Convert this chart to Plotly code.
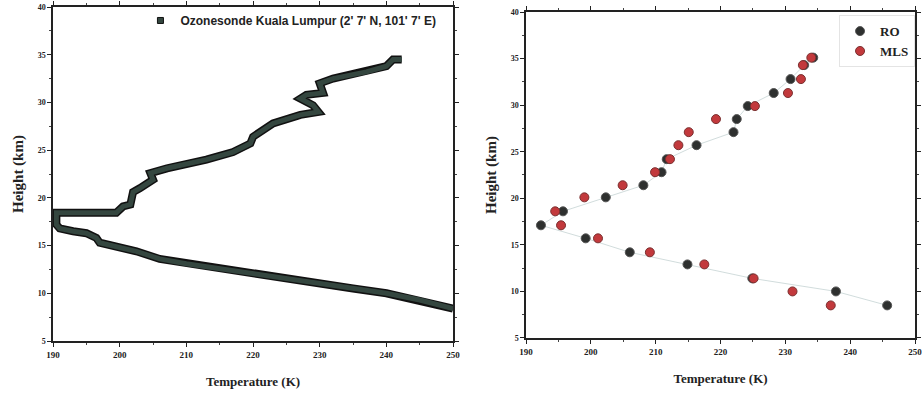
import plotly.graph_objects as go

# Left panel: ozonesonde profile (Temperature K, Height km)
sonde_temp = [250.0, 245.0, 240.0, 235.0, 230.0, 225.0, 220.0, 215.0, 210.0, 206.0, 202.5,
              200.0, 198.0, 197.0, 196.5, 195.0, 193.0, 191.0, 190.5, 190.4, 190.5, 199.5, 200.5,
              201.6, 202.0, 203.0, 205.0, 204.6, 207.1, 213.0, 217.0, 219.6, 220.0, 223.0,
              227.1, 229.8, 229.0, 227.1, 228.0, 230.5, 230.0, 232.0, 237.0, 240.0, 241.0, 242.3]
sonde_height = [8.4, 9.3, 10.0, 10.5, 11.05, 11.6, 12.1, 12.6, 13.1, 13.6, 14.4,
                14.8, 15.2, 15.3, 15.8, 16.3, 16.5, 16.8, 17.2, 18.0, 18.45, 18.45, 19.1,
                19.3, 20.6, 21.0, 21.9, 22.6, 23.1, 24.0, 24.8, 25.7, 26.4, 27.8,
                28.7, 29.0, 29.7, 30.4, 30.8, 31.0, 32.0, 32.5, 33.2, 33.8, 34.5, 34.5]

# Right panel: RO and MLS temperatures at levels
ro_temp = [245.7, 237.8, 224.9, 214.9, 206.0, 199.2, 192.3, 195.7, 202.3, 208.1, 210.9,
           211.7, 216.3, 222.0, 222.5, 224.2, 228.2, 230.8, 232.9, 234.3]
ro_height = [8.5, 10.0, 11.4, 12.9, 14.2, 15.7, 17.1, 18.6, 20.1, 21.4, 22.8,
             24.2, 25.7, 27.1, 28.5, 29.9, 31.3, 32.8, 34.3, 35.1]
mls_temp = [237.0, 231.1, 225.1, 217.5, 209.1, 201.1, 195.4, 194.5, 199.0, 204.9, 209.9,
            212.2, 213.5, 215.1, 219.3, 225.3, 230.4, 232.4, 232.7, 234.0]
mls_height = [8.5, 10.0, 11.4, 12.9, 14.2, 15.7, 17.1, 18.6, 20.1, 21.4, 22.8,
              24.2, 25.7, 27.1, 28.5, 29.9, 31.3, 32.8, 34.3, 35.1]

x_ticks = [190, 200, 210, 220, 230, 240, 250]
y_ticks = [5, 10, 15, 20, 25, 30, 35, 40]

SERIF = "Liberation Serif"
fig = go.Figure()

# left profile: black outline + dark green fill band
fig.add_trace(go.Scatter(x=sonde_temp, y=sonde_height, mode="lines",
                         line=dict(color="#111111", width=8), showlegend=False,
                         xaxis="x", yaxis="y", hoverinfo="skip"))
fig.add_trace(go.Scatter(x=sonde_temp, y=sonde_height, mode="lines",
                         line=dict(color="#34463f", width=5), showlegend=False,
                         xaxis="x", yaxis="y"))
fig.add_trace(go.Scatter(x=[None], y=[None], mode="markers",
                         marker=dict(symbol="square", size=6, color="#34463f",
                                     line=dict(color="#111", width=1)),
                         name="Ozonesonde Kuala Lumpur (2' 7' N, 101' 7' E)",
                         xaxis="x", yaxis="y", legend="legend"))

# right panel
fig.add_trace(go.Scatter(x=ro_temp, y=ro_height, mode="lines",
                         line=dict(color="rgba(190,205,205,0.7)", width=1),
                         showlegend=False, xaxis="x2", yaxis="y2", hoverinfo="skip"))
fig.add_trace(go.Scatter(x=ro_temp, y=ro_height, mode="markers", name="RO",
                         marker=dict(size=9, color="#2e302f", line=dict(color="#555", width=1)),
                         xaxis="x2", yaxis="y2", legend="legend2"))
fig.add_trace(go.Scatter(x=mls_temp, y=mls_height, mode="markers", name="MLS",
                         marker=dict(size=9, color="#c2393c", line=dict(color="#7a3030", width=1)),
                         xaxis="x2", yaxis="y2", legend="legend2"))

def xaxis(domain, anchor):
    return dict(domain=domain, anchor=anchor, range=[190, 250], tickvals=x_ticks,
                automargin=False,
                showline=True, linecolor="#222", linewidth=1.5, mirror="ticks",
                ticks="outside", ticklen=4, tickcolor="#222",
                minor=dict(ticks="outside", ticklen=2, dtick=5, tickcolor="#444"),
                showgrid=False, zeroline=False,
                tickfont=dict(family=SERIF, size=9, color="#222", weight="bold"),
                title=dict(text="<b>Temperature (K)</b>", font=dict(family=SERIF, size=13, color="#222"),
                           standoff=18))

def yaxis(domain, anchor):
    return dict(domain=domain, anchor=anchor, range=[5, 40], tickvals=y_ticks,
                automargin=False,
                showline=True, linecolor="#222", linewidth=1.5, mirror="ticks",
                ticks="outside", ticklen=4, tickcolor="#222",
                minor=dict(ticks="outside", ticklen=2, dtick=2.5, tickcolor="#444"),
                showgrid=False, zeroline=False,
                tickfont=dict(family=SERIF, size=8, color="#222", weight="bold"),
                title=dict(text="<b>Height (km)</b>", font=dict(family=SERIF, size=15, color="#222"),
                           standoff=10))

fig.update_layout(
    width=924, height=398, margin=dict(l=0, r=0, t=0, b=0),
    paper_bgcolor="white", plot_bgcolor="white",
    xaxis=xaxis([0.0574, 0.4903], "y"),
    yaxis=yaxis([0.1432, 0.9824], "x"),
    xaxis2=xaxis([0.5693, 0.9903], "y2"),
    yaxis2=yaxis([0.1508, 0.9698], "x2"),
    legend=dict(x=0.152, y=0.985, xanchor="left", yanchor="top",
                font=dict(family="Liberation Sans", size=12, color="#222", weight="bold"),
                bgcolor="rgba(0,0,0,0)", itemwidth=30, tracegroupgap=0),
    legend2=dict(x=0.9903, y=0.962, xanchor="right", yanchor="top",
                 font=dict(family=SERIF, size=13, color="#222", weight="bold"),
                 bgcolor="rgba(255,255,255,0.8)", bordercolor="#e4e4e4", borderwidth=1,
                 itemwidth=30, tracegroupgap=0),
    showlegend=True,
)

fig.write_html("out.html", config={"displayModeBar": False},
               post_script="document.body.style.margin='0px';")
